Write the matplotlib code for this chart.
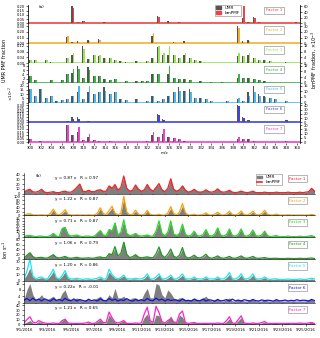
import numpy as np
import pandas as pd
import matplotlib
matplotlib.use("Agg")
import matplotlib.pyplot as plt
import matplotlib.dates as mdates
from matplotlib.patches import Patch
from matplotlib.lines import Line2D

# ---------------- datos ----------------
factores = ['Factor 1', 'Factor 2', 'Factor 3', 'Factor 4', 'Factor 5', 'Factor 6', 'Factor 7']
colores_a = ['#e8464a', '#f2b134', '#9be35a', '#3fb34a', '#4fb8ea', '#4444dd', '#e845c8']
colores_b = ['#ff1f1f', '#ffa200', '#22dd22', '#1e9a1e', '#1ae8f0', '#1010f0', '#ff22cc']

# panel (a): m/z, fraccion UMR (eje izq.), fraccion bmPMF x10^-3 (eje der.)
mz_1 = [308, 309, 310, 313, 314, 316, 324, 326, 328, 340, 341, 342, 343, 350]
umr_1 = [0.20, 0.016, 0.030, 0.010, 0.012, 0.006, 0.090, 0.024, 0.016, 0.060, 0.020, 0.070, 0.016, 0.012]
bm_1 = [54, 6, 7, 3, 5, 2, 21, 6, 4, 62, 6, 18, 6, 3]

mz_2 = [300, 302, 307, 308, 309, 311, 313, 323, 327, 329, 339, 340, 341]
umr_2 = [0.01, 0.01, 0.105, 0.03, 0.036, 0.06, 0.075, 0.135, 0.03, 0.036, 0.30, 0.045, 0.06]
bm_2 = [1, 1, 12, 3, 3, 4.5, 6, 18, 3, 3, 27, 3, 4.5]

mz_3 = [300, 301, 303, 304, 307, 308, 310, 311, 312, 313, 314, 315, 316, 317, 318, 320, 322, 323, 324,
        325, 326, 327, 328, 329, 330, 331, 332, 339, 340, 341, 342, 343, 344, 345, 348]
umr_3 = [0.024, 0.024, 0.018, 0.008, 0.036, 0.06, 0.12, 0.03, 0.054, 0.05, 0.036, 0.036, 0.018, 0.012, 0.01,
         0.012, 0.012, 0.036, 0.11, 0.06, 0.06, 0.06, 0.036, 0.06, 0.036, 0.024, 0.012, 0.05, 0.048, 0.06,
         0.036, 0.024, 0.018, 0.012, 0.006]
bm_3 = [2.4, 2.4, 1.8, 0.8, 3.6, 7.2, 10, 3, 5.4, 6, 3.6, 3.6, 1.8, 1.2, 1.0,
        1.2, 1.2, 3.6, 12, 7.2, 12, 6, 3.6, 7.2, 3.6, 2.4, 1.2, 7.2, 4.8, 7.2,
        3.6, 2.4, 1.8, 1.2, 0.6]

mz_4 = [300, 301, 304, 306, 307, 308, 309, 310, 311, 312, 313, 314, 315, 316, 318, 320, 321, 322, 323, 324,
        326, 327, 328, 329, 330, 332, 334, 336, 339, 340, 341, 342, 343, 344]
umr_4 = [3.2, 1.2, 1.2, 1.2, 4.0, 4.8, 8.0, 2.4, 7.2, 3.2, 3.2, 2.0, 1.2, 2.0, 0.8, 0.8, 0.8, 0.8, 4.0, 4.0,
         4.0, 2.4, 2.0, 1.6, 1.2, 0.8, 0.6, 0.6, 2.4, 2.4, 2.4, 1.6, 1.2, 0.8]
bm_4 = [4.8, 1.8, 1.8, 1.8, 6, 9.6, 10, 3.6, 9, 4.8, 4.8, 3, 1.8, 3, 1.2, 1.2, 1.2, 1.2, 6, 6,
        12, 3.6, 3, 2.4, 1.8, 1.2, 0.8, 0.6, 6, 3.6, 3.6, 2.4, 1.8, 1.2]

mz_5 = [300, 301, 302, 303, 304, 305, 306, 307, 308, 309, 310, 311, 312, 313, 314, 315, 316, 317, 318, 320,
        322, 323, 324, 325, 326, 327, 328, 329, 330, 331, 332, 333, 334, 337, 339, 340, 341, 342, 343, 344,
        345, 346, 348]
umr_5 = [16, 8, 16, 6, 8, 2, 3, 4, 8, 12, 4, 12, 10, 12, 18, 10, 12, 4, 3, 4,
         2, 8, 2, 4, 8, 12, 18, 14, 16, 6, 6, 4, 2, 2, 4, 2, 12, 20, 10, 8,
         6, 4, 2]
bm_5 = [12, 6, 12, 4.5, 6, 1.5, 2.2, 3, 6, 15, 3, 15, 7.5, 9, 10, 7.5, 9, 3, 2.2, 3,
        1.5, 6, 1.5, 3, 6, 9, 10, 10.5, 9, 4.5, 4.5, 3, 1.5, 1.5, 4.5, 1.5, 6, 9, 6, 5,
        4, 3, 1.5]

mz_6 = [307, 308, 309, 311, 324, 325, 328, 339, 340, 341, 343, 348]
umr_6 = [0.03, 0.09, 0.09, 0.03, 0.15, 0.06, 0.015, 0.30, 0.09, 0.045, 0.015, 0.045]
bm_6 = [3, 8, 8, 3, 18, 6, 2, 38, 10, 5, 2, 6]

mz_7 = [300, 302, 307, 308, 309, 310, 311, 312, 313, 315, 322, 323, 324, 325, 326, 327, 328, 329,
        339, 340, 341, 342, 348]
umr_7 = [0.05, 0.012, 0.25, 0.10, 0.15, 0.04, 0.08, 0.04, 0.025, 0.012, 0.025, 0.10, 0.075, 0.12, 0.075,
         0.06, 0.05, 0.02, 0.05, 0.05, 0.05, 0.02, 0.025]
bm_7 = [4, 1, 20, 8, 18, 3, 10, 3, 2, 1, 2, 12, 6, 16, 6, 5, 4, 1.5, 6, 4, 4, 1.5, 2]

mz_listas = [mz_1, mz_2, mz_3, mz_4, mz_5, mz_6, mz_7]
umr_listas = [umr_1, umr_2, umr_3, umr_4, umr_5, umr_6, umr_7]
bm_listas = [bm_1, bm_2, bm_3, bm_4, bm_5, bm_6, bm_7]

ticks_izq = [[0, 0.05, 0.10, 0.15, 0.20], [0, 0.10, 0.20, 0.30], [0, 0.04, 0.08, 0.12], [0, 2, 4, 6, 8],
             [0, 5, 10, 15, 20], [0, 0.05, 0.10, 0.15, 0.20, 0.25, 0.30], [0, 0.05, 0.10, 0.15, 0.20, 0.25]]
ticks_der = [[0, 20, 40, 60], [0, 10, 20, 30], [0, 4, 8, 12], [0, 4, 8, 12], [0, 5, 10, 15],
             [0, 10, 20, 30, 40], [0, 5, 10, 15, 20]]
etiquetas_izq = [['0.00', '0.05', '0.10', '0.15', '0.20'], ['0.00', '0.10', '0.20', '0.30'],
                 ['0.00', '0.04', '0.08', '0.12'], ['0', '2', '4', '6', '8'], ['0', '5', '10', '15', '20'],
                 ['0.00', '0.05', '0.10', '0.15', '0.20', '0.25', '0.30'],
                 ['0.00', '0.05', '0.10', '0.15', '0.20', '0.25']]

# panel (b): series cada 6 h desde el 1/9/2016
umr_s1 = [3, 8, 10, 4, 3, 5, 10, 4, 2, 3, 5, 3, 3, 4, 6, 3, 3, 8, 14, 21, 6, 5, 8, 5, 5, 8, 9, 6,
          6, 18, 12, 20, 8, 14, 36, 12, 6, 8, 19, 10, 6, 9, 20, 10, 6, 15, 20, 9, 5, 12, 32, 10,
          6, 9, 18, 8, 4, 6, 10, 5, 4, 5, 9, 5, 3, 6, 11, 5, 3, 5, 8, 4, 3, 4, 6, 3, 3, 4, 6, 3,
          2, 3, 4, 3, 2, 3, 4, 2, 2, 2, 3, 2, 2, 3, 4, 3, 3, 5, 12, 6]
bm_s1 = [3, 7, 9, 4, 3, 5, 9, 3, 2, 3, 4, 2, 2, 4, 5, 3, 3, 7, 13, 20, 5, 4, 7, 4, 4, 7, 8, 5,
         5, 16, 11, 19, 7, 13, 37, 11, 5, 7, 18, 9, 5, 8, 19, 9, 5, 13, 21, 8, 4, 11, 31, 9,
         5, 8, 16, 7, 3, 5, 9, 4, 3, 4, 8, 4, 3, 5, 10, 4, 3, 4, 7, 3, 2, 3, 5, 3, 2, 3, 5, 2,
         2, 2, 3, 2, 2, 2, 3, 2, 2, 2, 3, 2, 2, 2, 3, 2, 3, 4, 11, 5]
umr_s2 = [2, 6, 8, 3, 2, 2, 3, 2, 2, 8, 28, 6, 3, 10, 25, 5, 2, 2, 3, 2, 2, 2, 3, 2, 2, 10, 35, 8,
          4, 20, 40, 10, 3, 8, 90, 15, 3, 5, 22, 6, 2, 4, 22, 5, 2, 3, 5, 2, 2, 10, 38, 8,
          3, 15, 50, 12, 2, 3, 5, 2, 2, 4, 11, 3, 2, 5, 14, 3, 2, 6, 18, 4, 2, 6, 19, 4, 2, 7, 18, 4,
          2, 8, 22, 5, 2, 3, 6, 2, 2, 2, 3, 2, 2, 2, 2, 2, 2, 2, 4, 2]
bm_s2 = [2, 7, 9, 3, 2, 2, 3, 2, 2, 10, 33, 7, 3, 12, 30, 6, 2, 2, 3, 2, 2, 2, 3, 2, 2, 12, 40, 9,
         5, 25, 48, 12, 4, 10, 100, 18, 3, 6, 27, 7, 2, 5, 26, 6, 2, 3, 6, 2, 2, 12, 46, 10,
         3, 18, 62, 14, 2, 3, 6, 2, 2, 5, 13, 3, 2, 6, 17, 4, 2, 7, 22, 5, 2, 7, 23, 5, 2, 8, 22, 5,
         2, 9, 27, 6, 2, 3, 7, 2, 2, 2, 3, 2, 2, 2, 2, 2, 2, 2, 5, 2]
umr_s3 = [1, 3, 4, 2, 1, 2, 2, 1, 1, 3, 8, 3, 1, 18, 20, 6, 2, 3, 5, 2, 1, 2, 2, 1, 2, 8, 14, 4,
          3, 16, 12, 28, 5, 10, 30, 8, 3, 4, 8, 3, 2, 3, 5, 2, 2, 12, 28, 8, 3, 10, 28, 7,
          3, 8, 22, 6, 2, 4, 12, 3, 2, 5, 15, 3, 2, 6, 18, 4, 2, 5, 16, 3, 2, 5, 16, 3, 2, 5, 14, 3,
          2, 4, 12, 3, 1, 2, 3, 1, 1, 1, 2, 1, 1, 1, 2, 1, 1, 2, 3, 1]
bm_s3 = [1, 3, 3, 2, 1, 2, 2, 1, 1, 3, 7, 2, 1, 16, 17, 5, 2, 3, 4, 2, 1, 2, 2, 1, 2, 7, 12, 4,
         3, 14, 11, 26, 4, 9, 32, 7, 3, 4, 7, 3, 2, 3, 4, 2, 2, 11, 30, 7, 3, 9, 30, 6,
         3, 7, 24, 5, 2, 4, 11, 3, 2, 5, 14, 3, 2, 6, 17, 4, 2, 5, 15, 3, 2, 5, 15, 3, 2, 5, 13, 3,
         2, 4, 11, 3, 1, 2, 3, 1, 1, 1, 2, 1, 1, 1, 2, 1, 1, 2, 3, 1]
umr_s4 = [4, 18, 30, 12, 5, 6, 8, 5, 4, 12, 20, 8, 4, 7, 12, 5, 3, 5, 8, 4, 3, 4, 5, 3, 4, 7, 10, 5,
          6, 25, 20, 45, 12, 25, 75, 18, 6, 10, 20, 8, 5, 7, 10, 6, 5, 20, 45, 15, 6, 18, 38, 12,
          6, 15, 42, 10, 4, 8, 15, 6, 4, 9, 18, 6, 3, 7, 12, 5, 3, 6, 10, 4, 3, 7, 12, 5, 3, 6, 10, 4,
          3, 4, 6, 3, 2, 3, 3, 2, 2, 2, 3, 2, 2, 2, 3, 2, 2, 3, 4, 2]
bm_s4 = [4, 16, 26, 10, 4, 6, 7, 4, 4, 11, 18, 7, 4, 7, 11, 5, 3, 5, 7, 4, 3, 4, 5, 3, 4, 7, 9, 5,
         6, 22, 18, 52, 12, 24, 70, 20, 6, 10, 18, 8, 5, 7, 9, 6, 5, 22, 50, 16, 6, 20, 42, 12,
         6, 16, 48, 10, 4, 8, 16, 6, 4, 10, 20, 6, 3, 7, 13, 5, 3, 6, 11, 4, 3, 7, 13, 5, 3, 6, 11, 4,
         3, 4, 6, 3, 2, 3, 3, 2, 2, 2, 3, 2, 2, 2, 3, 2, 2, 3, 4, 2]
umr_s5 = [3, 10, 20, 6, 3, 4, 5, 3, 3, 8, 15, 5, 3, 7, 14, 4, 2, 3, 3, 2, 2, 2, 3, 2, 2, 3, 5, 2,
          3, 14, 8, 4, 3, 5, 8, 3, 2, 3, 3, 2, 2, 4, 9, 3, 2, 5, 9, 3, 2, 4, 8, 3,
          2, 5, 9, 3, 2, 3, 5, 2, 2, 3, 5, 2, 2, 3, 5, 2, 2, 5, 10, 3, 2, 4, 9, 3, 2, 4, 9, 3,
          2, 3, 5, 2, 2, 2, 3, 2, 2, 2, 2, 2, 2, 2, 2, 2, 2, 2, 3, 2]
bm_s5 = [3, 15, 34, 8, 3, 5, 6, 3, 3, 10, 18, 5, 3, 8, 16, 5, 3, 3, 4, 3, 2, 3, 3, 2, 3, 4, 6, 3,
         3, 18, 10, 5, 3, 5, 9, 3, 3, 3, 4, 3, 3, 5, 11, 3, 3, 6, 11, 3, 3, 5, 9, 3,
         3, 6, 11, 3, 3, 3, 6, 3, 3, 3, 6, 3, 3, 3, 6, 3, 3, 6, 13, 3, 3, 5, 11, 3, 3, 5, 11, 3,
         3, 3, 6, 3, 2, 3, 3, 2, 2, 2, 3, 2, 2, 2, 3, 2, 2, 3, 4, 3]
umr_s6 = [2, 8, 12, 5, 2, 3, 5, 2, 2, 3, 4, 2, 2, 6, 8, 3, 2, 2, 3, 2, 1, 2, 2, 1, 2, 3, 4, 2,
          2, 5, 3, 9, 3, 3, 4, 2, 2, 3, 3, 2, 2, 6, 9, 3, 3, 12, 11, 5, 3, 8, 6, 3,
          2, 3, 3, 2, 2, 2, 3, 2, 2, 3, 4, 2, 1, 2, 2, 1, 1, 2, 3, 1, 1, 2, 2, 1, 1, 2, 2, 1,
          1, 1, 2, 1, 1, 1, 2, 1, 1, 1, 1, 1, 1, 1, 1, 1, 1, 2, 2, 1]
bm_s6 = [1.5, 2.6, 1.2, 2.8, 1.4, 2.2, 1.0, 2.4, 1.6, 0.9, 2.5, 1.3, 2.0, 1.1, 2.7, 1.5, 1.2, 2.3, 1.0, 1.9,
         1.4, 0.8, 2.1, 1.2, 1.7, 1.0, 2.4, 1.3, 1.1, 2.6, 1.4, 2.2, 1.0, 1.8, 1.3, 2.5, 1.5, 0.9, 2.0, 1.2,
         1.9, 1.1, 2.6, 1.4, 1.2, 2.8, 1.5, 2.2, 1.0, 2.0, 1.3, 1.7, 1.6, 0.9, 2.3, 1.2, 1.4, 1.0, 2.1, 1.3,
         1.2, 2.2, 1.0, 1.8, 1.5, 0.9, 2.0, 1.1, 1.3, 1.9, 1.0, 2.2, 1.1, 1.6, 0.9, 1.8, 1.4, 1.0, 2.0, 1.2,
         1.0, 1.7, 1.2, 1.5, 1.3, 0.9, 1.9, 1.1, 1.2, 1.6, 1.0, 1.4, 1.1, 1.8, 1.2, 1.5, 1.4, 1.0, 2.0, 1.3]
umr_s7 = [2, 5, 8, 3, 2, 6, 4, 2, 1, 2, 2, 1, 2, 8, 12, 3, 1, 2, 2, 1, 1, 2, 4, 1, 2, 6, 10, 3,
          3, 20, 12, 4, 2, 5, 8, 2, 2, 2, 3, 2, 2, 15, 22, 6, 3, 20, 18, 5, 3, 8, 18, 6,
          4, 20, 15, 4, 2, 3, 4, 2, 1, 2, 2, 1, 1, 2, 3, 1, 2, 6, 12, 3, 2, 8, 14, 3, 1, 2, 3, 1,
          1, 3, 5, 1, 1, 2, 2, 1, 1, 2, 2, 1, 1, 2, 3, 1, 1, 3, 5, 2]
bm_s7 = [3, 10, 16, 5, 3, 8, 5, 3, 2, 2, 3, 2, 2, 8, 11, 3, 2, 2, 2, 2, 2, 3, 5, 2, 2, 6, 11, 4,
         4, 26, 14, 5, 3, 5, 8, 2, 2, 2, 3, 2, 3, 22, 36, 8, 4, 38, 25, 6, 3, 8, 12, 5,
         4, 22, 28, 4, 2, 3, 4, 2, 2, 2, 2, 2, 2, 2, 3, 2, 2, 8, 16, 3, 2, 10, 18, 3, 2, 2, 3, 2,
         2, 4, 6, 2, 2, 2, 2, 2, 2, 2, 2, 2, 2, 2, 3, 2, 2, 3, 4, 2]

umr_series = [umr_s1, umr_s2, umr_s3, umr_s4, umr_s5, umr_s6, umr_s7]
bm_series = [bm_s1, bm_s2, bm_s3, bm_s4, bm_s5, bm_s6, bm_s7]
ajustes = ['y = 0.87 x   R = 0.97', 'y = 1.22 x   R = 0.87', 'y = 0.71 x   R = 0.87',
           'y = 1.06 x   R = 0.79', 'y = 1.20 x   R = 0.86', 'y = 0.22x   R = -0.01',
           'y = 1.21 x   R = 0.65']
ticks_b = [[0, 10, 20, 30, 40], [0, 20, 40, 60, 80, 100], [0, 5, 10, 15, 20, 25, 30, 35],
           [0, 20, 40, 60, 80], [0, 10, 20, 30], [0, 4, 8, 12], [0, 10, 20, 30, 40]]

tiempo = pd.date_range('2016-09-01', periods=len(umr_s1), freq='6h')

# ---------------- figura ----------------
plt.rcParams['font.size'] = 3
plt.rcParams['axes.linewidth'] = 0.4
for k in ['xtick', 'ytick']:
    plt.rcParams[k + '.major.size'] = 1.5
    plt.rcParams[k + '.major.width'] = 0.4
    plt.rcParams[k + '.major.pad'] = 1

W, H = 320, 338
fig = plt.figure(figsize=(3.2, 3.38), dpi=100)

def rect(x0, y0, x1, y1):
    return [x0 / W, 1 - y1 / H, (x1 - x0) / W, (y1 - y0) / H]

# ----- panel (a) -----
for i in range(7):
    top = 5 + i * 19.8
    ax = fig.add_axes(rect(28, top, 300, top + 18.8))
    ax2 = ax.twinx()
    mz = np.array(mz_listas[i])
    ax.bar(mz - 0.15, umr_listas[i], width=0.3, color='#555555', lw=0)
    ax2.bar(mz + 0.15, bm_listas[i], width=0.3, color=colores_a[i], lw=0)
    ax.axhline(0, color=colores_a[i], lw=1.2, zorder=0)
    ax.set_xlim(299.6, 350.6)
    ax.set_yticks(ticks_izq[i])
    ax.set_yticklabels(etiquetas_izq[i])
    ax.set_ylim(-0.02 * ticks_izq[i][-1], ticks_izq[i][-1] * 1.08)
    ax2.set_yticks(ticks_der[i])
    ax2.set_ylim(-0.02 * ticks_der[i][-1], ticks_der[i][-1] * 1.08)
    ax.set_xticks(range(300, 351, 2))
    for a in (ax, ax2):
        a.spines['top'].set_visible(False)
        a.spines['bottom'].set_visible(False)
        a.tick_params(labelsize=2.6)
    if i < 6:
        ax.tick_params(axis='x', bottom=False, labelbottom=False)
    else:
        ax.tick_params(axis='x', labelsize=2.7)
        ax.set_xlabel('m/z', fontsize=3, labelpad=1)
    ax.text(0.905, 0.72, factores[i], transform=ax.transAxes, color=colores_a[i], fontsize=3,
            ha='center', va='center',
            bbox=dict(boxstyle='square,pad=0.4', fc='white', ec='#999999', lw=0.5))
    if i == 0:
        ax.text(0.04, 0.82, '(a)', transform=ax.transAxes, fontsize=3)
        h = [Patch(color='#555555', label='UMR'), Patch(color=colores_a[0], label='bmPMF')]
        ax.legend(handles=h, loc='upper left', bbox_to_anchor=(0.68, 1.12), fontsize=3, frameon=True,
                  handlelength=1.2, handleheight=0.5, borderpad=0.3, labelspacing=0.2,
                  fancybox=False, edgecolor='#666666').get_frame().set_linewidth(0.4)

fig.text(5 / W, 1 - 60 / H, 'UMR PMF fraction', rotation=90, fontsize=3.5, ha='center', va='center')
fig.text(11 / W, 1 - 94 / H, '×10$^{-2}$', rotation=90, fontsize=3, ha='center', va='center')
fig.text(314 / W, 1 - 60 / H, 'bmPMF fraction, ×10$^{-3}$', rotation=90, fontsize=3.5, ha='center', va='center')

# ----- panel (b) -----
formato = lambda x, pos: '{d.month}/{d.day}/{d.year}'.format(d=mdates.num2date(x))
for i in range(7):
    top = 173 + i * 21.8
    ax = fig.add_axes(rect(24, top, 315, top + 20.6))
    ax.fill_between(tiempo, umr_series[i], color='#7f7f7f', lw=0)
    ax.plot(tiempo, bm_series[i], color=colores_b[i], lw=0.9)
    ax.set_xlim(pd.Timestamp('2016-09-01'), pd.Timestamp('2016-09-25 19:00'))
    ax.set_yticks(ticks_b[i])
    ax.set_ylim(0, ticks_b[i][-1] * 1.08)
    ax.xaxis.set_major_locator(mdates.DayLocator(bymonthday=range(1, 30, 2)))
    ax.xaxis.set_minor_locator(mdates.DayLocator())
    ax.tick_params(which='minor', length=0.8, width=0.3)
    ax.spines['top'].set_visible(False)
    ax.spines['right'].set_visible(False)
    ax.tick_params(labelsize=2.6)
    if i < 6:
        ax.tick_params(axis='x', which='both', labelbottom=False)
    else:
        ax.xaxis.set_major_formatter(plt.FuncFormatter(formato))
        ax.tick_params(axis='x', labelsize=2.8)
    ax.text(0.105, 0.78, ajustes[i], transform=ax.transAxes, fontsize=3, va='center')
    ax.text(0.94, 0.72, factores[i], transform=ax.transAxes, color=colores_b[i], fontsize=3,
            ha='center', va='center',
            bbox=dict(boxstyle='square,pad=0.4', fc='white', ec='#999999', lw=0.5))
    if i == 0:
        ax.text(0.04, 0.8, '(b)', transform=ax.transAxes, fontsize=3)
        h = [Patch(color='#7f7f7f', label='UMR'), Line2D([], [], color=colores_b[0], lw=1.2, label='bmPMF')]
        ax.legend(handles=h, loc='upper left', bbox_to_anchor=(0.79, 1.05), fontsize=3, frameon=True,
                  handlelength=1.2, handleheight=0.5, borderpad=0.3, labelspacing=0.2,
                  fancybox=False, edgecolor='#666666').get_frame().set_linewidth(0.4)

fig.text(5 / W, 1 - 250 / H, 'Ion s$^{-1}$', rotation=90, fontsize=3.5, ha='center', va='center')

fig.savefig('out.png', dpi=100)
